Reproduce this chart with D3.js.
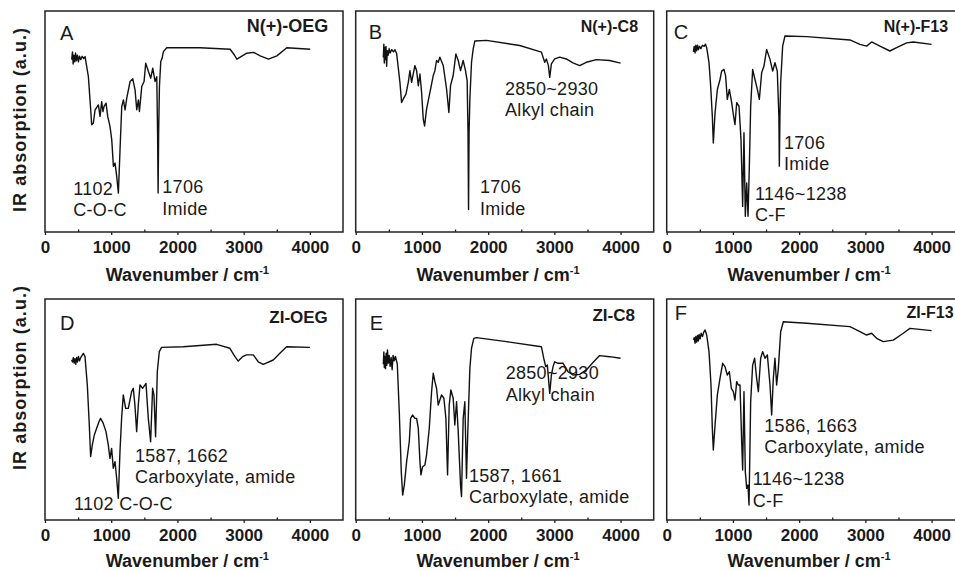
<!DOCTYPE html>
<html>
<head>
<meta charset="utf-8">
<script src="https://cdn.jsdelivr.net/npm/d3@7"></script>
<style>
  body { margin: 0; background: #fff; }
  text { font-family: "Liberation Sans", Arial, sans-serif; fill: #1a1a1a; }
</style>
</head>
<body>
<svg id="chart" width="955" height="571"></svg>
<script>
// spectra: [wavenumber, relative signal 0..100 of panel height]
var specA = [[403,78],[415,81.5],[425,76],[438,80],[450,77],[462,81],[475,77.5],[490,80],[505,77],[520,79.5],[540,78],[560,79.5],[585,78.5],[605,79.4],
  [655,70.3],[690,55.3],[705,48.5],[730,49.2],[756,55.3],[790,56.8],[806,57.5],[831,52.3],[856,59],[875,54.5],[892,56.8],[922,58.3],[947,52.3],[982,47.7],
  [1008,41.7],[1033,29.7],[1058,31.2],[1083,25.2],[1108,17.6],[1133,37.2],[1159,56.8],[1184,59.8],[1209,55.3],[1234,60.5],[1285,68.1],[1325,69.3],[1360,64.3],
  [1385,55.3],[1410,59.8],[1426,54.5],[1461,65.8],[1496,68.1],[1521,76.4],[1562,72.6],[1597,69.6],[1627,74.1],[1662,68.1],[1688,70.3],[1700,44.7],[1708,17.6],
  [1716,44.7],[1728,65.8],[1748,77.1],[1768,78.6],[1788,81.6],[1839,83.4],[2343,83.4],[2796,82.7],[2860,80.1],[2897,78.2],[2947,79.1],[3048,80.9],[3149,81.3],
  [3249,79.7],[3375,78.2],[3501,79.7],[3652,83.4],[4005,82.7]];

var specB = [[417,79],[425,85],[432,76.5],[440,83.5],[448,78],[457,84],[467,75],[478,82],[490,80],[505,83],[520,81],[545,82.5],[570,81.5],[593,82.5],[618,80.8],
  [668,67.7],[693,58.6],[719,60.2],[759,62.4],[794,67.7],[819,73],[844,67.7],[869,71.5],[894,75.3],[920,73],[945,66.2],[970,71.5],[995,63.2],[1020,51.1],
  [1040,48],[1070,55.6],[1121,63.2],[1171,70.8],[1196,73],[1221,77.6],[1246,76.8],[1271,79.1],[1322,75.3],[1372,64.7],[1407,54.1],[1432,66.2],[1472,70.8],
  [1513,80.6],[1548,77.6],[1583,73],[1623,77.6],[1658,73],[1683,68.5],[1696,45],[1704,10.2],[1712,45],[1724,60.2],[1749,76.8],[1774,82.9],[1799,86.4],
  [1975,86.7],[2477,84.4],[2804,81.4],[2854,76.8],[2879,78.3],[2910,75.3],[2930,70],[2955,76.1],[3005,78.3],[3080,79.1],[3181,78.3],[3281,76.5],[3382,75.3],
  [3482,76.8],[3633,78],[3834,77.6],[4000,76.4]];

var specC = [[403,81.5],[415,84],[428,81],[440,84.5],[452,82],[465,84.5],[478,82.5],[495,84],[515,83],[540,84.5],[565,84],[585,85],[604,83.4],
  [639,76.6],[664,66],[689,52.4],[704,40.3],[730,53.9],[765,64.5],[805,69],[830,72.8],[865,73.6],[890,70.5],[915,60],[946,64.5],[981,58.5],[1006,53.2],
  [1031,48.6],[1057,58.5],[1092,56.9],[1122,41.8],[1147,11.6],[1167,44.9],[1187,7.1],[1208,22.2],[1228,7.1],[1248,29.8],[1268,56.9],[1298,73.6],[1333,69],
  [1369,64.5],[1399,60],[1434,72.1],[1469,75.1],[1509,82.6],[1560,78.1],[1600,72.8],[1635,76.6],[1670,72.8],[1694,52.4],[1701,29.8],[1710,52.4],[1721,67.5],
  [1751,84.1],[1786,88.7],[2113,88.4],[2767,86.9],[2918,84.9],[3019,84.1],[3094,86],[3220,84.1],[3371,81.9],[3472,83.4],[3623,85.6],[3723,86],[4000,84.9]];

var specD = [[403,72.5],[415,71.5],[428,73.5],[440,71],[452,73],[465,70.5],[478,73.5],[490,71.5],[505,74],[520,72],[540,73.5],[560,74.5],[579,75.4],
  [604,73.9],[639,61.1],[669,43],[689,28.7],[714,33.9],[745,38.5],[780,41.5],[815,44.5],[840,46],[880,43.7],[921,40],[956,33.9],[981,27.9],[1006,32.4],
  [1031,23.4],[1057,26.4],[1082,18.9],[1107,9.8],[1132,30.9],[1157,46],[1182,56.6],[1218,50.5],[1258,50.5],[1308,58.1],[1333,59.6],[1358,52],[1384,40],
  [1409,52],[1434,61.1],[1474,59.6],[1525,61.8],[1560,46],[1595,35.4],[1625,59.6],[1645,56.6],[1670,37.7],[1696,67.1],[1726,76.2],[1761,78.1],[2088,78.4],
  [2591,79.5],[2792,77.7],[2868,73.9],[2918,71.9],[2983,73.9],[3044,74.7],[3145,74.7],[3220,71.6],[3296,70.4],[3447,72.4],[3547,75.4],[3648,78.4],[4000,78.1]];

var specE = [[417,70.5],[425,76],[432,69],[440,74],[450,68.5],[460,75.5],[470,70],[480,77],[492,71],[505,74.5],[520,69.5],[535,73.5],[550,68],[565,74.5],
  [580,72],[600,74],[628,70.6],[658,49],[688,21.9],[709,11.3],[734,15.8],[769,26.4],[809,35.4],[829,46],[859,47.5],[894,46],[920,46],[945,41.5],[970,26.4],
  [985,20.4],[1010,24.1],[1045,24.9],[1070,29.4],[1111,41.5],[1146,58.1],[1171,66.4],[1196,62.6],[1221,59.6],[1246,52],[1271,54.3],[1296,56.6],[1332,55.1],
  [1362,46],[1387,20.4],[1412,52],[1437,58.8],[1472,55.1],[1497,43],[1523,53.5],[1548,40],[1583,15.8],[1598,10.6],[1623,46],[1648,53.5],[1673,18.9],
  [1693,40],[1724,68.6],[1749,77.7],[1784,82.2],[1824,82.5],[2276,80.7],[2804,78.4],[2839,73.2],[2869,69.4],[2894,70.1],[2930,57.3],[2955,65.6],[2980,69.4],
  [3005,71.6],[3055,70.9],[3131,70.9],[3206,67.1],[3281,65.6],[3382,65.9],[3482,67.9],[3583,71.3],[3683,74.4],[3834,73.9],[4000,73.2]];

var specF = [[403,81.5],[415,82.5],[428,80],[440,83],[452,80.5],[465,83.5],[478,81],[490,84],[505,82],[520,84.5],[540,83],[560,85],[579,86],
  [604,83.7],[639,76.2],[669,61.1],[689,41.5],[704,31.7],[730,43],[765,56.6],[805,64.1],[845,70.9],[880,69.4],[915,65.6],[946,67.1],[976,59.6],[1006,58.1],
  [1031,54.3],[1057,62.6],[1082,61.1],[1107,61.1],[1132,35.4],[1147,22.6],[1167,58.1],[1187,21.9],[1208,14.3],[1228,15.8],[1243,6.8],[1268,53.5],[1298,70.1],
  [1328,73.2],[1358,64.1],[1384,58.1],[1419,73.2],[1449,76.2],[1484,73.2],[1520,74.7],[1560,61.1],[1585,47.5],[1610,64.1],[1635,73.2],[1660,61.1],[1686,68.6],
  [1721,85.2],[1761,89.7],[2113,89],[2767,87.5],[2918,85.2],[3019,83.7],[3094,84.5],[3170,82.2],[3270,80.7],[3421,81.4],[3572,84.5],[3673,86.7],[4000,85.7]];

var panelLetters = ["A", "B", "C", "D", "E", "F"];
var panelNames = ["N(+)-OEG", "N(+)-C8", "N(+)-F13", "ZI-OEG", "ZI-C8", "ZI-F13"];
var nameX = [3046, 3398, 3277, 3387, 3575, 3620];

// peak labels: [wavenumber, level, text lines]
var notesA = [[427, 16.9, ["1102", "C-O-C"]], [1771, 17.6, ["1706", "Imide"]]];
var notesB = [[2255, 62.1, ["2850~2930", "Alkyl chain"]], [1877, 17.6, ["1706", "Imide"]]];
var notesC = [[1771, 37.7, ["1706", "Imide"]], [1333, 14.6, ["1146~1238", "C-F"]]];
var notesD = [[1359, 26.4, ["1587, 1662", "Carboxylate, amide"]], [438, 4.5, ["1102 C-O-C"]]];
var notesE = [[2265, 63.8, ["2850~2930", "Alkyl chain"]], [1711, 17.3, ["1587, 1661", "Carboxylate, amide"]]];
var notesF = [[1474, 40, ["1586, 1663", "Carboxylate, amide"]], [1298, 15.8, ["1146~1238", "C-F"]]];

var xTicks = [0, 1000, 2000, 3000, 4000];
var xMinor = [500, 1500, 2500, 3500];

var spectra = [specA, specB, specC, specD, specE, specF];
var notes = [notesA, notesB, notesC, notesD, notesE, notesF];

// layout
var colX = [45, 355.7, 666.7], rowY = [11, 299];
var pw = 298, ph = 221;
var letterPos = [[15, 29], [13, 28], [7, 28], [15, 31], [14, 31], [8, 21]];
var namePos = [21, 21, 21, 24, 22, 19];
var nameSize = [18, 16, 16, 17, 17, 16];
var titleDy = [49, 47];

var svg = d3.select("#chart");

var x = d3.scaleLinear().domain([0, 4500]).range([0, pw]);
var y = d3.scaleLinear().domain([0, 100]).range([ph, 0]);

var line = d3.line()
    .x(function(d) { return x(d[0]); })
    .y(function(d) { return y(d[1]); });

spectra.forEach(function(spec, i) {
    var row = Math.floor(i / 3);
    var g = svg.append("g")
        .attr("transform", "translate(" + colX[i % 3] + "," + rowY[row] + ")");

    // minor ticks (inside)
    g.append("g")
        .attr("transform", "translate(0," + ph + ")")
        .call(d3.axisBottom(x).tickValues(xMinor).tickSize(-2.5).tickFormat(""))
        .call(function(a) { a.select(".domain").remove(); a.selectAll("line").attr("stroke", "#222").attr("stroke-width", 1.3); });

    // major ticks + labels
    g.append("g")
        .attr("transform", "translate(0," + ph + ")")
        .call(d3.axisBottom(x).tickValues(xTicks).tickSize(3).tickPadding(6).tickFormat(d3.format("d")))
        .call(function(a) {
            a.select(".domain").remove();
            a.selectAll("line").attr("stroke", "#222").attr("stroke-width", 1.3);
            a.selectAll("text").attr("font-size", 17).attr("font-weight", "bold")
                .attr("font-family", "'Liberation Sans', Arial, sans-serif").attr("fill", "#1a1a1a");
        });

    g.append("rect")
        .attr("width", pw).attr("height", ph)
        .attr("fill", "none").attr("stroke", "#222").attr("stroke-width", 1.5);

    g.append("path")
        .datum(spec)
        .attr("d", line)
        .attr("fill", "none")
        .attr("stroke", "#111")
        .attr("stroke-width", 1.4)
        .attr("stroke-linejoin", "round");

    // x axis title
    var t = g.append("text")
        .attr("x", x(2150)).attr("y", ph + titleDy[row])
        .attr("text-anchor", "middle")
        .attr("font-size", 18).attr("font-weight", "bold")
        .text("Wavenumber / cm");
    t.append("tspan").attr("dy", -7).attr("font-size", 11).text("-1");

    g.append("text")
        .attr("x", letterPos[i][0]).attr("y", letterPos[i][1])
        .attr("font-size", 20).attr("fill", "#333")
        .text(panelLetters[i]);

    g.append("text")
        .attr("x", x(nameX[i])).attr("y", namePos[i])
        .attr("font-size", nameSize[i]).attr("font-weight", "bold")
        .text(panelNames[i]);

    notes[i].forEach(function(n) {
        var nt = g.append("text")
            .attr("x", x(n[0])).attr("y", y(n[1]))
            .attr("font-size", 18).attr("letter-spacing", 0.3);
        n[2].forEach(function(s, k) {
            nt.append("tspan").attr("x", x(n[0])).attr("dy", k === 0 ? 0 : 21.5).text(s);
        });
    });
});

// y axis titles
[120, 378].forEach(function(cy) {
    svg.append("text")
        .attr("transform", "translate(26," + cy + ") rotate(-90)")
        .attr("text-anchor", "middle")
        .attr("font-size", 18).attr("font-weight", "bold")
        .attr("textLength", 184).attr("lengthAdjust", "spacing")
        .text("IR absorption (a.u.)");
});
</script>
</body>
</html>
